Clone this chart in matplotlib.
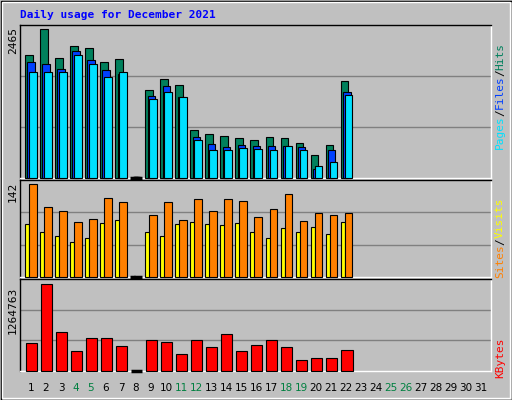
import matplotlib
matplotlib.use("Agg")
import matplotlib.pyplot as plt
import numpy as np

days = list(range(1, 32))
weekend = [4, 5, 11, 12, 18, 19, 25, 26]
hits = [2031, 2465, 1980, 2181, 2147, 1913, 1963, 0, 1461, 1645, 1545, 792, 725, 692, 658, 625, 675, 658, 574, 374, 541, 1612] + [None]*9
files = [1913, 1879, 1796, 2097, 1946, 1779, 1729, 0, 1361, 1528, 1344, 675, 558, 508, 541, 524, 524, 524, 508, 156, 457, 1428] + [None]*9
pages = [1762, 1762, 1762, 2030, 1879, 1679, 1762, 0, 1311, 1428, 1344, 625, 457, 457, 491, 474, 457, 524, 457, 206, 257, 1377] + [None]*9
visits = [80, 69, 63, 53, 59, 82, 86, 0, 69, 63, 80, 83, 80, 79, 82, 69, 60, 74, 68, 76, 66, 83] + [None]*9
sites = [142, 106, 100, 83, 89, 120, 114, 0, 94, 114, 86, 118, 100, 118, 115, 91, 103, 127, 85, 97, 94, 97] + [None]*9
kbytes = [411758, 1264763, 573635, 294134, 485321, 485321, 367671, 0, 455909, 426497, 250017, 455909, 352965, 544223, 294134, 382377, 455909, 352965, 161771, 191183, 191183, 308840] + [None]*9

BG = "#C0C0C0"
W, H = 512, 400
fig = plt.figure(figsize=(W/100, H/100), dpi=100, facecolor=BG)

def ax_px(x0, y0, x1, y1):
    return fig.add_axes([x0/W, 1-y1/H, (x1-x0)/W, (y1-y0)/H])

def prep(ax, ytop):
    ax.set_facecolor(BG)
    ax.set_xlim(0, 470/15)
    ax.set_ylim(0, ytop)
    for g in (ytop/3, 2*ytop/3):
        ax.axhline(g, color="#808080", lw=1, zorder=0)
    ax.set_xticks([]); ax.set_yticks([])
    for s in ax.spines.values():
        s.set_color("black"); s.set_linewidth(1)
    ax.spines["right"].set_color("white"); ax.spines["bottom"].set_color("white")

def xs(off):
    return [(5+(d-1)*15+off)/15 for d in days]

def vals(v):
    return [np.nan if a is None else a for a in v]

def bars(ax, off, v, w, color):
    b = ax.bar(xs(off), vals(v), width=w/15, align="edge", color=color,
               edgecolor="black", lw=0.8, zorder=3)
    for r in b:
        r.set_clip_on(False)
        if r.get_height() == 0:
            r.set_linewidth(2.5)

# Top panel
ax1 = ax_px(20, 25, 491, 178)
sc = 2465/442
prep(ax1, 454*sc)
bars(ax1, 0, hits, 7.5, "#00805C")
bars(ax1, 2.3, files, 7.5, "#0040FF")
bars(ax1, 4, pages, 7.5, "#00E0FF")
fig.text(8/W, 1-40/H, "2465", rotation=90, fontsize=8, family="DejaVu Sans Mono", va="center", ha="left")

# Middle panel
ax2 = ax_px(20, 180, 491, 277)
sc2 = 142/278
prep(ax2, 289*sc2)
bars(ax2, 0, visits, 4.3, "#FFFF00")
bars(ax2, 4, sites, 7.5, "#FF8000")
fig.text(8/W, 1-192/H, "142", rotation=90, fontsize=8, family="DejaVu Sans Mono", va="center", ha="left")

# Bottom panel
ax3 = ax_px(20, 279, 491, 371)
sc3 = 1264763/86
prep(ax3, 91*sc3)
bars(ax3, 0.8, kbytes, 11, "#FF0000")
fig.text(8/W, 1-310/H, "1264763", rotation=90, fontsize=8, family="DejaVu Sans Mono", va="center", ha="left")

# Day labels
for d in days:
    x = 20 + 5 + (d-1)*15 + 6
    fig.text(x/W, 1-388/H, str(d), fontsize=7.5, ha="center", va="center",
             color="#008040" if d in weekend else "black")

fig.text(20/W, 1-15/H, "Daily usage for December 2021", fontsize=8, weight="bold",
         family="DejaVu Sans Mono", color="#0000FF", va="center")

def vlabel(y_center, parts):
    total = sum(len(p[0]) for p in parts) * 6.6
    y = y_center + total/2
    for t, c in parts:
        fig.text(500/W, 1-y/H, t, rotation=90, fontsize=8, family="DejaVu Sans Mono",
                 color=c, ha="center", va="bottom")
        y -= len(t)*6.6

vlabel(96, [("Pages", "#00E0FF"), ("/", "black"), ("Files", "#0040FF"), ("/", "black"), ("Hits", "#00805C")])
vlabel(238, [("Sites", "#FF8000"), ("/", "black"), ("Visits", "#FFFF00")])
vlabel(358, [("KBytes", "#FF0000")])

fig.patches.append(plt.Rectangle((0.5/W, 0.5/H), 1-1/W, 1-1/H, transform=fig.transFigure,
                                 fill=False, edgecolor="black", lw=1))
fig.patches.append(plt.Rectangle((2/W, 2/H), 1-4/W, 1-4/H, transform=fig.transFigure,
                                 fill=False, edgecolor="white", lw=1))
fig.savefig("out.png", dpi=100, facecolor=BG)
